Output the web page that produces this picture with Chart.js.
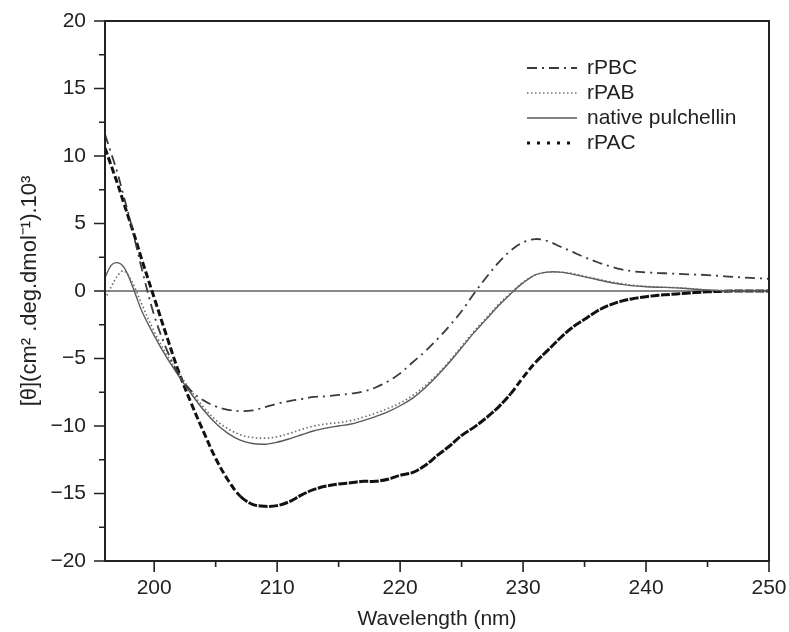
<!DOCTYPE html>
<html>
<head>
<meta charset="utf-8">
<script src="https://cdn.jsdelivr.net/npm/chart.js@4.4.0/dist/chart.umd.min.js"></script>
<style>
html,body{margin:0;padding:0;background:#fff;}
#wrap{width:789px;height:632px;}
</style>
</head>
<body>
<div id="wrap"><canvas id="c" width="789" height="632"></canvas></div>
<script>
// Wavelength (nm)
const wavelengths = [196,196.5,197,197.5,198,198.5,199,200,201,202,203,204,205,206,207,208,209,210,211,212,213,214,215,216,217,218,219,220,221,222,223,224,225,226,227,228,229,230,231,232,233,234,235,236,237,238,239,240,241,242,243,244,245,246,247,248,249,250];
// [θ] x 10^3
const rPBC = [11.6,10.2,8.8,7.1,5.4,3.5,1.6,-1.8,-4.3,-6.2,-7.4,-8.1,-8.55,-8.8,-8.9,-8.85,-8.6,-8.35,-8.15,-8.0,-7.85,-7.8,-7.7,-7.6,-7.45,-7.15,-6.7,-6.1,-5.3,-4.5,-3.6,-2.6,-1.5,-0.2,1.0,2.1,3.0,3.6,3.85,3.7,3.3,2.9,2.5,2.15,1.85,1.6,1.45,1.38,1.33,1.3,1.25,1.22,1.18,1.12,1.05,1.0,0.95,0.9];
const rPAB = [-0.6,0.3,1.1,1.5,1.0,0.1,-1.0,-3.0,-4.7,-6.1,-7.4,-8.6,-9.55,-10.2,-10.65,-10.85,-10.9,-10.8,-10.55,-10.25,-10.0,-9.85,-9.75,-9.6,-9.35,-9.05,-8.7,-8.3,-7.75,-7.05,-6.2,-5.2,-4.1,-3.0,-2.0,-1.0,-0.15,0.65,1.2,1.4,1.4,1.3,1.1,0.9,0.7,0.55,0.42,0.35,0.3,0.27,0.22,0.15,0.08,0.03,0,0,0,0];
const nativePulchellin = [1.0,1.9,2.1,1.8,0.9,-0.3,-1.5,-3.3,-4.9,-6.3,-7.6,-8.8,-9.8,-10.55,-11.05,-11.3,-11.35,-11.2,-10.95,-10.65,-10.35,-10.15,-10.0,-9.85,-9.6,-9.3,-8.95,-8.5,-7.95,-7.2,-6.3,-5.3,-4.2,-3.1,-2.1,-1.1,-0.2,0.6,1.2,1.4,1.4,1.25,1.05,0.85,0.65,0.5,0.38,0.32,0.28,0.25,0.2,0.13,0.07,0.03,0,0,0,0];
const rPAC = [10.6,9.3,8.0,6.6,5.2,3.8,2.3,-0.5,-3.3,-6.0,-8.3,-10.4,-12.4,-14.0,-15.2,-15.8,-15.95,-15.9,-15.6,-15.1,-14.7,-14.45,-14.3,-14.2,-14.1,-14.1,-13.95,-13.65,-13.45,-12.95,-12.2,-11.5,-10.7,-10.1,-9.4,-8.6,-7.6,-6.4,-5.3,-4.4,-3.5,-2.7,-2.1,-1.5,-1.05,-0.75,-0.55,-0.42,-0.32,-0.25,-0.18,-0.12,-0.06,-0.03,0,0,0,0];

const xTicks = [200,205,210,215,220,225,230,235,240,245,250];
const yTicks = [-20,-17.5,-15,-12.5,-10,-7.5,-5,-2.5,0,2.5,5,7.5,10,12.5,15,17.5,20];

const FONT = 'Liberation Sans, Arial, Helvetica, sans-serif';

function pts(arr){ return wavelengths.map((w,i)=>({x:w,y:arr[i]})); }

// heavy dashes on the steep part of rPAC, nearly continuous where it is flat
function steepDash(ctx){
  const dx = ctx.p1.parsed.x - ctx.p0.parsed.x;
  const dy = ctx.p1.parsed.y - ctx.p0.parsed.y;
  return Math.abs(dy/dx) > 1.0 ? [7,3] : [9,1.5];
}

const series = [
  {label:'rPBC', data:pts(rPBC), borderColor:'#3a3a3a', borderWidth:1.8, borderDash:[10,5,2,5], legendDash:[10,5,2,5]},
  {label:'rPAB', data:pts(rPAB), borderColor:'#6a6a6a', borderWidth:1.6, borderDash:[1.5,2.5], legendDash:[1.5,2.5]},
  {label:'native pulchellin', data:pts(nativePulchellin), borderColor:'#5a5a5a', borderWidth:1.4, borderDash:[], legendDash:[]},
  {label:'rPAC', data:pts(rPAC), borderColor:'#111111', borderWidth:3, borderDash:[], segment:{borderDash:steepDash}, legendDash:[3,7]}
];

const framePlugin = {
  id:'frame',
  afterDraw(chart){
    const {ctx, chartArea:a, scales:{x,y}} = chart;
    ctx.save();
    ctx.strokeStyle = '#222';
    ctx.lineWidth = 2;
    ctx.strokeRect(a.left, a.top, a.right-a.left, a.bottom-a.top);
    ctx.lineWidth = 1.6;
    ctx.beginPath();
    x.ticks.forEach(t=>{
      const px = x.getPixelForValue(t.value);
      const len = (t.value % 10 === 0) ? 11 : 6;
      ctx.moveTo(px, a.bottom); ctx.lineTo(px, a.bottom+len);
    });
    y.ticks.forEach(t=>{
      const py = y.getPixelForValue(t.value);
      const len = (t.value % 5 === 0) ? 11 : 6;
      ctx.moveTo(a.left, py); ctx.lineTo(a.left-len, py);
    });
    ctx.stroke();
    ctx.restore();
  },
  afterDatasetsDraw(chart){
    const {ctx} = chart;
    const rows = [68, 93, 118, 143];
    ctx.save();
    chart.data.datasets.forEach((ds,i)=>{
      const yy = rows[i];
      ctx.strokeStyle = ds.borderColor;
      ctx.lineWidth = ds.borderWidth;
      ctx.lineCap = 'butt';
      ctx.setLineDash(ds.legendDash || []);
      ctx.beginPath();
      ctx.moveTo(527, yy); ctx.lineTo(577, yy);
      ctx.stroke();
      ctx.setLineDash([]);
      ctx.fillStyle = '#222';
      ctx.font = '21px ' + FONT;
      ctx.textBaseline = 'middle';
      ctx.textAlign = 'left';
      ctx.fillText(ds.label, 587, yy);
    });
    ctx.restore();
  }
};

new Chart(document.getElementById('c'), {
  type:'line',
  data:{ datasets: series.map(s=>Object.assign({pointRadius:0, tension:0.35, fill:false}, s)) },
  options:{
    responsive:false,
    animation:false,
    devicePixelRatio:1,
    layout:{padding:{top:21,right:20,left:0,bottom:0}},
    plugins:{legend:{display:false}, tooltip:{enabled:false}},
    scales:{
      x:{
        type:'linear', min:196, max:250,
        afterBuildTicks(s){ s.ticks = xTicks.map(v=>({value:v})); },
        afterFit(s){ s.height = 71; s.paddingLeft = 0; s.paddingRight = 0; },
        grid:{display:false, drawTicks:false},
        border:{display:false},
        ticks:{padding:15, color:'#222', font:{family:FONT, size:21}, autoSkip:false, maxRotation:0,
          callback:(v)=> (v % 10 === 0) ? String(v) : ''},
        title:{display:true, text:'Wavelength (nm)', color:'#222', font:{family:FONT, size:21}, padding:{top:0,bottom:0}}
      },
      y:{
        type:'linear', min:-20, max:20,
        afterBuildTicks(s){ s.ticks = yTicks.map(v=>({value:v})); },
        afterFit(s){ s.width = 105; s.paddingTop = 0; s.paddingBottom = 0; },
        grid:{drawTicks:false, color:(c)=> (c.tick && c.tick.value === 0) ? '#8a8a8a' : 'rgba(0,0,0,0)', lineWidth:2},
        border:{display:false},
        ticks:{padding:19, color:'#222', font:{family:FONT, size:21}, autoSkip:false,
          callback:(v)=> (v % 5 === 0) ? String(v).replace('-', '\u2212') : ''},
        title:{display:true, text:'[\u03b8](cm\u00b2 .deg.dmol\u207b\u00b9).10\u00b3', color:'#222', font:{family:FONT, size:22}, padding:{top:17,bottom:0}}
      }
    }
  },
  plugins:[framePlugin]
});
</script>
</body>
</html>
